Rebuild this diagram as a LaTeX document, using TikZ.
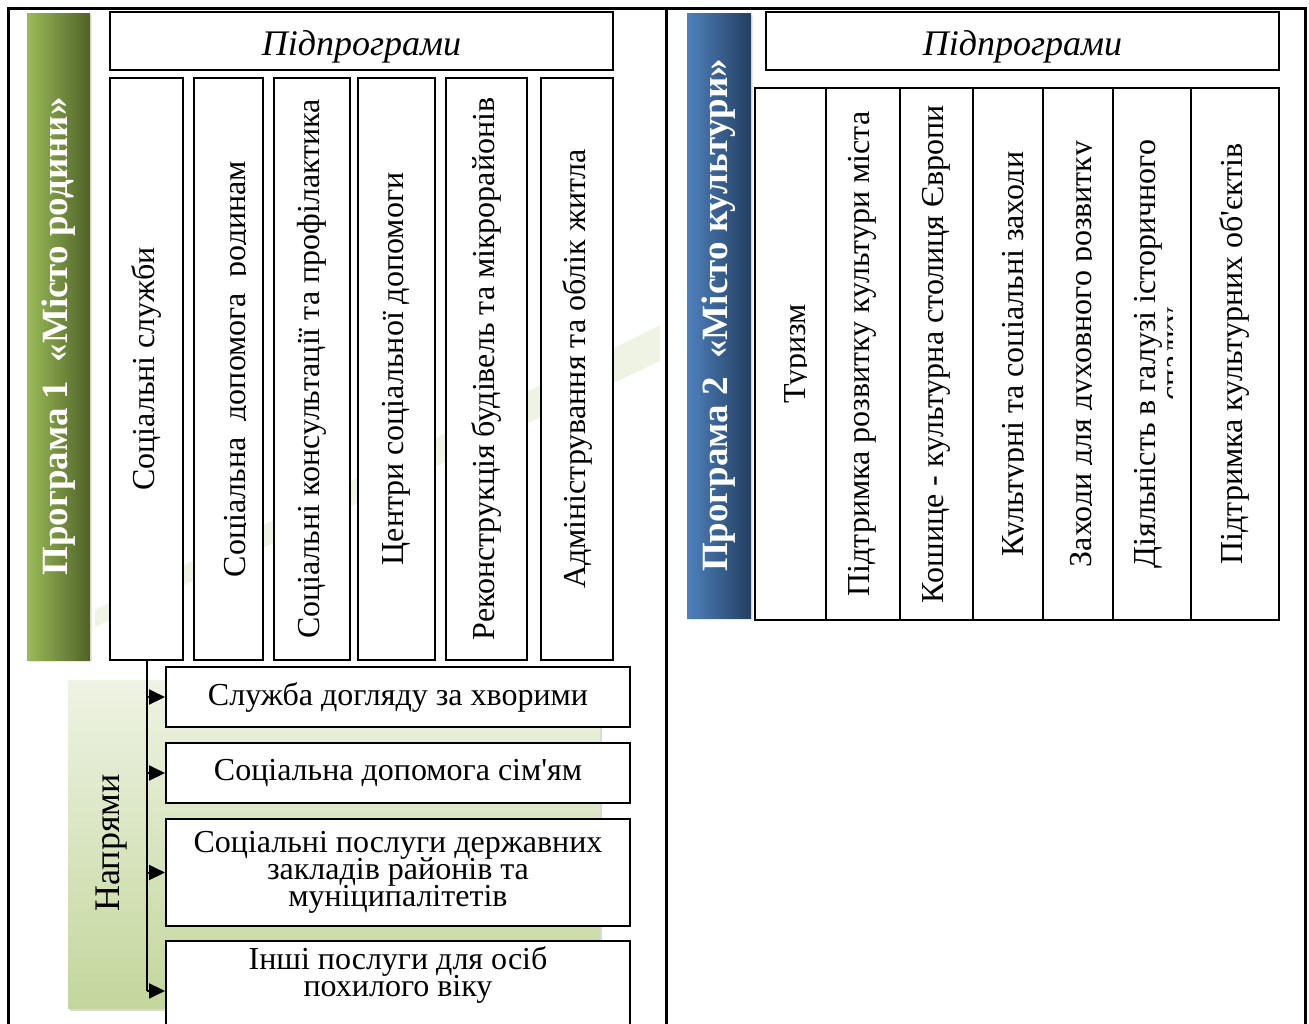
\documentclass[tikz,border=0pt]{standalone}
\usepackage{fontspec}
\setmainfont{Liberation Serif}[Ligatures=TeXOff]
\usepackage{graphicx}
\usetikzlibrary{arrows.meta, shadows}
\definecolor{pgreen}{HTML}{9BBB59}
\definecolor{pgreendk}{HTML}{4F6228}
\definecolor{pblue}{HTML}{4F81BD}
\definecolor{pbluedk}{HTML}{243F60}
\definecolor{nlight}{HTML}{EEF3E4}
\definecolor{ndark}{HTML}{C3D69B}
\definecolor{wmark}{HTML}{EEF3E3}
\newcommand\txtfont{\fontsize{16}{13.5}\selectfont\lineskiplimit=-\maxdimen}
\newcommand\hdfont{\fontsize{18}{20}\selectfont\itshape}
\newcommand\prgfont{\fontsize{18.5}{20}\selectfont\bfseries}
\tikzset{
  every picture/.style={line width=1pt},
  frameline/.style={line width=1.5pt},
  progbox/.style={text=white, font=\prgfont, inner sep=0pt,
    drop shadow={opacity=0.18, shadow xshift=1.2pt, shadow yshift=-1.2pt}},
  headbox/.style={draw, fill=white, minimum height=29pt, inner sep=0pt,
    text height=14pt, text depth=0pt, font=\hdfont},
  colbox/.style={draw, fill=white, rotate=90, inner sep=0pt, font=\txtfont},
  coltext/.style={rotate=90, inner sep=0pt, font=\txtfont},
  napbox/.style={top color=nlight, bottom color=ndark, inner sep=0pt,
    drop shadow={opacity=0.3, shadow xshift=1.2pt, shadow yshift=-1.5pt}},
  dirbox/.style={draw, fill=white, minimum width=232pt, inner sep=3pt, align=center, font=\txtfont},
  arrow/.style={-{Triangle[length=8pt, width=7.5pt]}},
}
\begin{document}
\begin{tikzpicture}[x=1pt, y=-1pt]
  \useasboundingbox (0,0) rectangle (654.5,511.5);
  \clip (0,0) rectangle (654.5,511.5);
  % table frame
  \draw[frameline] (4.25,520) -- (4.25,4.25) -- (652.5,4.25) -- (652.5,520);
  \draw[frameline] (333.25,4.25) -- (333.25,520);
  % faint band behind the columns
  \fill[wmark] (47.5,305) -- (330,162.5) -- (330,180.5) -- (47.5,313.5) -- cycle;

  % programme 1
  \node[progbox, left color=pgreen, right color=pgreendk, minimum width=31.5pt, minimum height=323.5pt]
    (prog1) at (29.25,168.25) {\rotatebox{90}{Програма~1\ \ «Місто родини»}};
  \node[headbox, minimum width=251.5pt] (head1) at (180.75,20.5) {Підпрограми};
  \node[colbox, minimum width=291pt, minimum height=36.5pt] (c1) at (73.25,184.5) {Соціальні служби};
  \node[colbox, minimum width=291pt, minimum height=34.5pt] (c2) at (114.25,184.5) {};
  \begin{scope}
    \clip (97,39) rectangle (122.8,330);
    \node[coltext, anchor=base] (c2t) at (122.5,184.5) {Соціальна\ \ допомога\ \ родинам};
  \end{scope}
  \node[colbox, minimum width=291pt, minimum height=38pt] (c3) at (156,184.5) {Соціальні консультації та профілактика};
  \node[colbox, minimum width=291pt, minimum height=38.5pt] (c4) at (198.25,184.5) {Центри соціальної допомоги};
  \node[colbox, minimum width=291pt, minimum height=40.5pt] (c5) at (243.25,184.5) {Реконструкція будівель та мікрорайонів};
  \node[colbox, minimum width=291pt, minimum height=36pt] (c6) at (288.5,184.5) {Адміністрування та облік житла};

  % directions
  \node[napbox, minimum width=266pt, minimum height=164pt] (napr) at (167,422) {};
  \node[coltext, font=\fontsize{18}{20}\selectfont] (naprt) at (56,421.5) {Напрями};
  \node[dirbox, minimum height=30pt] (dir1) at (199,348.5) {Служба догляду за хворими};
  \node[dirbox, minimum height=30pt] (dir2) at (199,386.5) {Соціальна допомога сім'ям};
  \node[dirbox, minimum height=53.5pt] (dir3) at (199,436.25) {Соціальні послуги державних\\закладів районів та\\муніципалітетів};
  \node[dirbox, anchor=north, text depth=19pt] (dir4) at (199,470) {Інші послуги для осіб\\похилого віку};
  \draw (c1.west) -- (c1.west |- dir4.west);
  \foreach \d in {dir1,dir2,dir3,dir4}
    \draw[arrow] (c1.west |- \d.west) -- (\d.west);

  % programme 2
  \node[progbox, left color=pblue, right color=pbluedk, minimum width=32pt, minimum height=302.5pt]
    (prog2) at (359.5,157.75) {\rotatebox{90}{Програма~2\ \ «Місто культури»}};
  \node[headbox, minimum width=256.5pt] (head2) at (511.25,20.5) {Підпрограми};
  \node[colbox, minimum width=266pt, minimum height=35.25pt] (r1) at (395.125,177) {};
  \node[colbox, minimum width=266pt, minimum height=37.25pt] (r2) at (431.375,177) {Підтримка розвитку культури міста};
  \node[colbox, minimum width=266pt, minimum height=36.5pt] (r3) at (468.25,177) {Кошице - культурна столиця Європи};
  \node[colbox, minimum width=266pt, minimum height=34.75pt] (r4) at (503.875,177) {};
  \node[colbox, minimum width=266pt, minimum height=35.25pt] (r5) at (538.875,177) {};
  \node[colbox, minimum width=266pt, minimum height=38.75pt] (r6) at (575.875,177) {};
  \node[colbox, minimum width=266pt, minimum height=44.25pt] (r7) at (617.375,177) {Підтримка культурних об'єктів};
  \begin{scope}
    \clip (377.5,44) rectangle (403.3,310);
    \node[coltext, anchor=base] (r1t) at (402.8,177) {Туризм};
  \end{scope}
  \begin{scope}
    \clip (486.5,44) rectangle (511.8,310);
    \node[coltext, anchor=base] (r4t) at (511.5,177) {Культурні та соціальні заходи};
  \end{scope}
  \begin{scope}
    \clip (521.25,44) rectangle (545.8,310);
    \node[coltext, anchor=base] (r5t) at (545.5,177) {Заходи для духовного розвитку};
  \end{scope}
  \begin{scope}
    \clip (556.5,44) rectangle (586,310);
    \node[coltext, anchor=base] (r6t) at (577.5,177) {Діяльність в галузі історичного};
    \node[coltext, anchor=base] (r6u) at (591,177) {спадку};
  \end{scope}
\end{tikzpicture}
\end{document}
